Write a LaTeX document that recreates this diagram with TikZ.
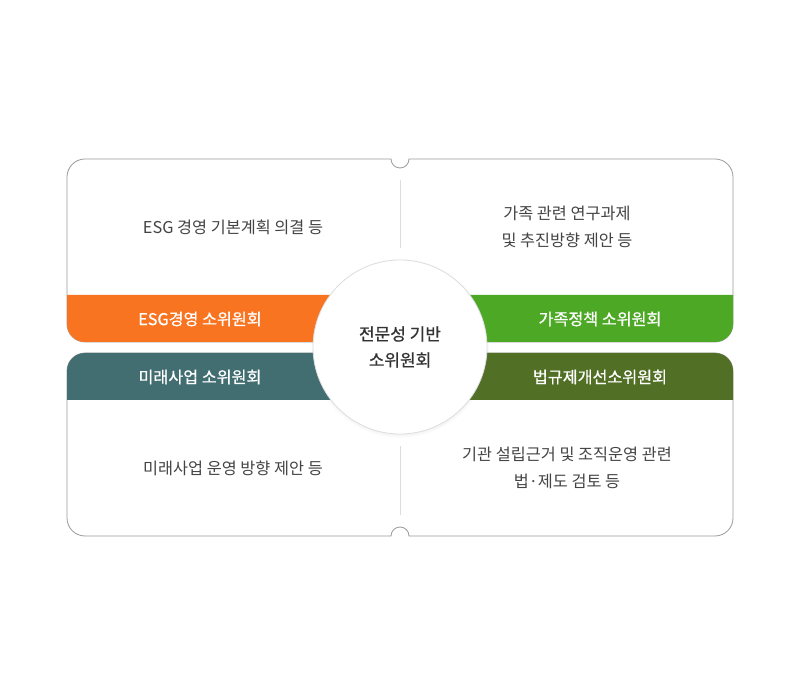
\documentclass[tikz,border=0pt]{standalone}
\usepackage{fontspec}
\setmainfont{Noto Sans CJK KR}
\newfontfamily\mediumkr[FakeBold=0.8]{Noto Sans CJK KR}
\usepackage{tikz}
\usetikzlibrary{positioning, shadows}
\usepackage{xcolor}
\definecolor{esgorange}{HTML}{F97420}
\definecolor{familygreen}{HTML}{4DA925}
\definecolor{futureteal}{HTML}{426E71}
\definecolor{lawgreen}{HTML}{516F25}
\definecolor{framegray}{HTML}{9A9A9A}
\definecolor{sepgray}{HTML}{DDDDDD}
\definecolor{bodytext}{HTML}{444444}

\begin{document}
\begin{tikzpicture}[x=1pt, y=1pt]

	\tikzstyle{frame}=[draw=framegray, line width=0.8pt, fill=white]
	\tikzstyle{sep}=[draw=sepgray, line width=0.8pt]
	\tikzstyle{task}=[align=center, text=bodytext, font=\fontsize{16.3}{27}\selectfont]
	\tikzstyle{band}=[text=white, font=\mediumkr\fontsize{16.2}{18}\selectfont]
	\tikzstyle{hub}=[circle, minimum size=174pt, fill=white, draw=sepgray, line width=0.8pt,
		circular drop shadow={shadow xshift=0pt, shadow yshift=-1pt, shadow scale=1.03, opacity=0.3},
		align=center, text=black!80, font=\mediumkr\fontsize{17}{26}\selectfont]

	\useasboundingbox (0,0) rectangle (800,694);

	% deux cadres avec encoche
	\path[frame] (67,517) arc (180:90:18) -- (391,535) arc (180:360:9) -- (715,535)
		arc (90:0:18) -- (733,370) arc (0:-90:18) -- (85,352) arc (270:180:18) -- cycle;
	\path[frame] (67,323) arc (180:90:18) -- (715,341) arc (90:0:18) -- (733,176)
		arc (0:-90:18) -- (409,158) arc (0:180:9) -- (85,158) arc (270:180:18) -- cycle;

	% bandes de couleur
	\fill[esgorange] (67,399) -- (400,399) -- (400,352) -- (85,352) arc (270:180:18) -- cycle;
	\fill[familygreen] (733,399) -- (400,399) -- (400,352) -- (715,352) arc (270:360:18) -- cycle;
	\fill[futureteal] (67,294) -- (400,294) -- (400,341) -- (85,341) arc (90:180:18) -- cycle;
	\fill[lawgreen] (733,294) -- (400,294) -- (400,341) -- (715,341) arc (90:0:18) -- cycle;

	% separateurs
	\coordinate (s1) at (400,514);
	\coordinate (s2) at (400,446);
	\coordinate (s3) at (400,248);
	\coordinate (s4) at (400,179);
	\draw[sep] (s1) -- (s2);
	\draw[sep] (s3) -- (s4);

	% textes
	\node[task] (esgtask) at (233,467) {ESG 경영 기본계획 의결 등};
	\node[task] (famtask) at (567,467) {가족 관련 연구과제\\및 추진방향 제안 등};
	\node[task] (futtask) at (233,226) {미래사업 운영 방향 제안 등};
	\node[task] (lawtask) at (567,226) {기관 설립근거 및 조직운영 관련\\법·제도 검토 등};

	\node[band] (esg) at (200,375) {ESG경영 소위원회};
	\node[band] (fam) at (600,375) {가족정책 소위원회};
	\node[band] (fut) at (200,317) {미래사업 소위원회};
	\node[band] (law) at (600,317) {법규제개선소위원회};

	\node[hub] (center) at (400,347) {전문성 기반\\소위원회};

\end{tikzpicture}
\end{document}
